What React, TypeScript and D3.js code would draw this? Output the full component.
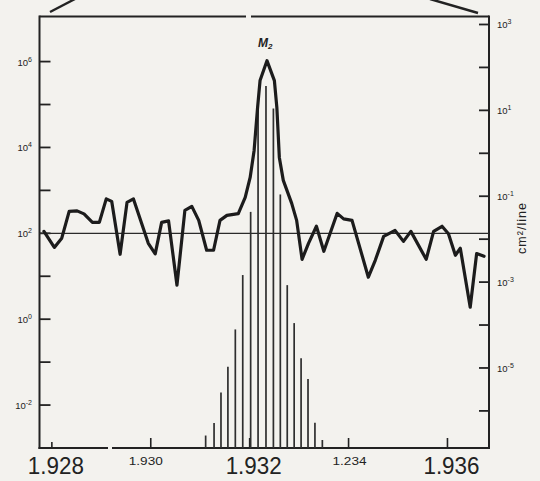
import React from "react";
import * as d3 from "d3";

// ---- data ----
const xTicks = [1.928, 1.93, 1.932, 1.934, 1.936];
const xTickLabels = ["1.928", "1.930", "1.932", "1.234", "1.936"];
const xTickBig = [true, false, true, false, true];

const leftTickExps = [-2, -1, 0, 1, 2, 3, 4, 5, 6];
const leftLabelExps = [6, 4, 2, 0, -2];
const rightTickExps = [-6, -5, -4, -3, -2, -1, 0, 1, 2, 3];
const rightLabelExps = [3, 1, -1, -3, -5];

// broad measured profile (left axis units)
const curveX = [
  1.92784, 1.92805, 1.9282, 1.92835, 1.92851, 1.92865, 1.92882, 1.92896, 1.9291, 1.92921,
  1.92938, 1.92952, 1.92965, 1.92995, 1.93009, 1.93022, 1.93036, 1.93053, 1.93069, 1.93083,
  1.93097, 1.93113, 1.93127, 1.9314, 1.93154, 1.93177, 1.93191, 1.93201, 1.93209, 1.93216,
  1.93221, 1.93235, 1.9325, 1.93255, 1.9326, 1.93268, 1.93285, 1.93295, 1.93306, 1.93319,
  1.93335, 1.9335, 1.93377, 1.9339, 1.93407, 1.9344, 1.93454, 1.93471, 1.93494, 1.93511,
  1.93526, 1.93557, 1.93572, 1.93589, 1.93602, 1.93616, 1.93626, 1.93646, 1.93659, 1.93674,
];
const curveY = [
  111, 47, 77, 325, 333, 284, 180, 180, 634, 555,
  32.5, 526, 634, 58.5, 33.3, 180, 195, 6.2, 343, 425,
  200, 40.3, 40.3, 200, 262, 287, 687, 2000, 8510, 85100,
  361000, 1050000, 361000, 85100, 5850, 1710, 499, 200, 24.8, 58.5,
  146, 38.1, 292, 217, 200, 9.5, 23.5, 85, 117, 65,
  111, 24.8, 111, 146, 98, 30.8, 44.8, 1.9, 33.7, 29.2,
];
const referenceLevel = 100;

// line spectrum (right axis units, cm^2/line)
const lineX = [
  1.93111, 1.93128, 1.93142, 1.93156, 1.93171, 1.93186, 1.93202, 1.93217, 1.93233,
  1.93248, 1.93262, 1.93276, 1.9329, 1.93304, 1.93318, 1.93332, 1.93347,
];
const lineS = [
  2.67e-7, 5.2e-7, 2.67e-6, 1.07e-5, 7.9e-5, 1.46e-3, 0.0432, 11.0, 36.7,
  11.0, 0.11, 8.5e-4, 1.11e-4, 1.68e-5, 5.5e-6, 5.3e-7, 2.1e-7,
];

const peakLabel = "M";
const peakSub = "2";
const rightAxisTitle = "cm²/line";

// ---- layout ----
const W = 540;
const H = 481;
const L = 39.5;
const R = 489;
const T = 16.5;
const B = 448;
const FONT = "'Liberation Sans', Arial, sans-serif";
const INK = "#222";
const BG = "#f3f2ee";

export default function App() {
  const x = d3.scaleLinear().domain([1.92775, 1.93684]).range([L, R]);
  const yL = d3.scaleLog().domain([1e-3, Math.pow(10, 7.05)]).range([B, T]);
  const yR = d3.scaleLog().domain([Math.pow(10, -6.864), Math.pow(10, 3.186)]).range([B, T]);

  const pts: [number, number][] = curveX.map((v, i) => [v, curveY[i]]);
  const line = d3
    .line<[number, number]>()
    .x((d) => x(d[0]))
    .y((d) => yL(d[1]))
    .curve(d3.curveLinear);

  const supText = (e: number) => (e < 0 ? "-" + Math.abs(e) : String(e));

  return (
    <svg
      width={W}
      height={H}
      style={{ position: "absolute", left: 0, top: 0, background: BG }}
      fontFamily={FONT}
    >
      <rect x={0} y={0} width={W} height={H} fill={BG} />

      {/* roof lines above frame */}
      <line x1={50} y1={12} x2={75} y2={-1} stroke={INK} strokeWidth={2.4} />
      <line x1={430} y1={-1} x2={478} y2={13} stroke={INK} strokeWidth={2.4} />

      {/* frame */}
      <line x1={L} y1={T} x2={246} y2={T} stroke={INK} strokeWidth={2} />
      <line x1={251} y1={T} x2={R} y2={T} stroke={INK} strokeWidth={2} />
      <line x1={L} y1={T - 1} x2={L} y2={B + 1} stroke={INK} strokeWidth={2} />
      <line x1={R} y1={T - 1} x2={R} y2={B + 1} stroke={INK} strokeWidth={2} />
      <line x1={L - 1} y1={B} x2={108} y2={B} stroke={INK} strokeWidth={2} />
      <line x1={112} y1={B} x2={R + 1} y2={B} stroke={INK} strokeWidth={2} />

      {/* left ticks */}
      {leftTickExps.map((e) => (
        <line key={"lt" + e} x1={L} x2={L + 11} y1={yL(Math.pow(10, e))} y2={yL(Math.pow(10, e))} stroke={INK} strokeWidth={1.8} />
      ))}
      {leftLabelExps.map((e) => (
        <text key={"ll" + e} x={32} y={yL(Math.pow(10, e)) + 4} textAnchor="end" fontSize={9.5} fill={INK}>
          10
          <tspan dy={-4} fontSize={7}>{supText(e)}</tspan>
        </text>
      ))}

      {/* right ticks */}
      {rightTickExps.map((e) => (
        <line key={"rt" + e} x1={R - 10} x2={R} y1={yR(Math.pow(10, e))} y2={yR(Math.pow(10, e))} stroke={INK} strokeWidth={1.8} />
      ))}
      {rightLabelExps.map((e) => (
        <text key={"rl" + e} x={497} y={yR(Math.pow(10, e)) + 4} textAnchor="start" fontSize={9.5} fill={INK}>
          10
          <tspan dy={-4} fontSize={7}>{supText(e)}</tspan>
        </text>
      ))}
      <text
        transform={`translate(526, 228) rotate(-90)`}
        textAnchor="middle"
        fontSize={12.5}
        letterSpacing={1}
        fill={INK}
      >
        {rightAxisTitle}
      </text>

      {/* bottom ticks & labels */}
      {xTicks.map((t, i) => (
        <g key={"xt" + i}>
          <line x1={x(t)} x2={x(t)} y1={B} y2={B - (i === 0 ? 6 : 10)} stroke={INK} strokeWidth={1.6} />
          {xTickBig[i] ? (
            <text x={x(t) + 4} y={474} textAnchor="middle" fontSize={24} textLength={56} lengthAdjust="spacingAndGlyphs" fill={INK}>
              {xTickLabels[i]}
            </text>
          ) : (
            <text x={x(t) + (i === 1 ? -5 : 1)} y={465} textAnchor="middle" fontSize={11.5} textLength={34} lengthAdjust="spacingAndGlyphs" fill={INK}>
              {xTickLabels[i]}
            </text>
          )}
        </g>
      ))}

      {/* reference level */}
      <line x1={L} x2={R} y1={yL(referenceLevel)} y2={yL(referenceLevel)} stroke="#2a2a2a" strokeWidth={1.3} />

      {/* line spectrum */}
      {lineX.map((v, i) => (
        <line key={"s" + i} x1={x(v)} x2={x(v)} y1={B} y2={yR(lineS[i])} stroke="#2e2e2e" strokeWidth={1.7} />
      ))}

      {/* measured profile */}
      <path d={line(pts) || ""} fill="none" stroke="#1c1c1c" strokeWidth={3.2} strokeLinejoin="round" strokeLinecap="round" />

      {/* peak label */}
      <text x={258} y={47} fontSize={12} fontWeight="bold" fontStyle="italic" fill={INK}>
        {peakLabel}
        <tspan dy={2} fontSize={8}>{peakSub}</tspan>
      </text>
    </svg>
  );
}
